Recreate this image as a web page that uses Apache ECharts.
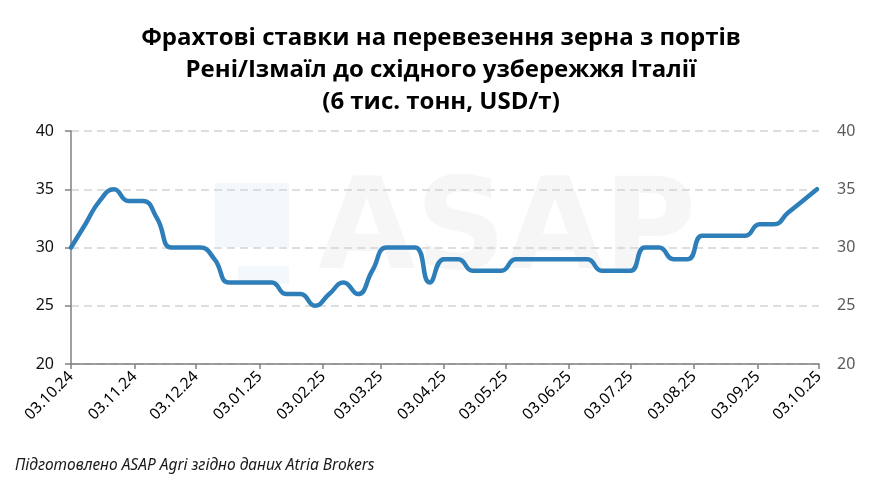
<!DOCTYPE html>
<html>
<head>
<meta charset="utf-8">
<script src="https://cdn.jsdelivr.net/npm/echarts@6/dist/echarts.min.js"></script>
<style>html,body{margin:0;padding:0;background:#fff;}#chart{width:882px;height:488px;}</style>
</head>
<body>
<div id="chart"></div>
<script>
// ---- data ----
const titleText = 'Фрахтові ставки на перевезення зерна з портів\nРені/Ізмаїл до східного узбережжя Італії\n(6 тис. тонн, USD/т)';
const sourceText = 'Підготовлено ASAP Agri згідно даних Atria Brokers';
const axisStart = [2024, 9, 3];   // 03.10.24
const axisEnd = [2025, 9, 3];     // 03.10.25
const tickDay = '03';             // ticks/labels on the 3rd of each month
const weekStep = 7;               // weekly observations
const rates = [30, 32, 34, 35, 34, 34, 32.5, 30, 30, 30, 29, 27, 27, 27, 27, 26, 26, 25, 26, 27,
               26, 28, 30, 30, 30, 27, 29, 29, 28, 28, 28, 29, 29, 29, 29, 29, 29, 28, 28, 28,
               30, 30, 29, 29, 31, 31, 31, 31, 32, 32, 33, 34, 35];
const yMin = 20, yMax = 40, yStep = 5;

// ---- build categories (every day on the axis) ----
function fmt(d) {
  const dd = String(d.getUTCDate()).padStart(2, '0');
  const mm = String(d.getUTCMonth() + 1).padStart(2, '0');
  const yy = String(d.getUTCFullYear()).slice(2);
  return dd + '.' + mm + '.' + yy;
}
const days = [];
const t0 = Date.UTC(axisStart[0], axisStart[1], axisStart[2]);
const t1 = Date.UTC(axisEnd[0], axisEnd[1], axisEnd[2]);
for (let t = t0; t <= t1; t += 86400000) days.push(fmt(new Date(t)));
const seriesData = rates.map((v, k) => [days[Math.min(k * weekStep, days.length - 1)], v]);

const isTick = (idx, val) => val.slice(0, 2) === tickDay;

const chart = echarts.init(document.getElementById('chart'), null, {renderer: 'canvas'});
chart.setOption({
  animation: false,
  backgroundColor: '#ffffff',
  title: {
    text: titleText,
    left: 'center',
    top: 22,
    padding: 0,
    textStyle: {fontFamily: 'Open Sans', fontWeight: 'bold', fontSize: 24, lineHeight: 32, color: '#000000'}
  },
  grid: {left: 71, right: 63, top: 131, bottom: 124, containLabel: false},
  graphic: [
    {type: 'rect', z: -10, shape: {x: 215, y: 183, width: 74, height: 64}, style: {fill: '#f3f8fc'}},
    {type: 'rect', z: -10, shape: {x: 238, y: 266, width: 51, height: 18}, style: {fill: '#f3f8fc'}},
    {type: 'text', z: -10, left: 318, top: 172, style: {text: 'ASAP', fontFamily: 'DejaVu Sans', fontWeight: 'bold', fontSize: 126, fill: '#f6f6f6'}},
    {type: 'text', left: 15, top: 458, style: {text: sourceText, fontFamily: 'Noto Sans', fontStyle: 'italic', fontSize: 15.5, fill: '#1a1a1a'}}
  ],
  xAxis: {
    type: 'category',
    data: days,
    boundaryGap: false,
    axisLine: {lineStyle: {color: '#808080', width: 1.5}},
    axisTick: {interval: isTick, length: 5, lineStyle: {color: '#808080', width: 1.5}},
    axisLabel: {interval: isTick, rotate: 45, margin: 10, fontFamily: 'Noto Sans', fontSize: 15.5, color: '#000000'},
    splitLine: {show: false}
  },
  yAxis: [
    {
      type: 'value', min: yMin, max: yMax, interval: yStep, position: 'left',
      axisLine: {show: true, lineStyle: {color: '#808080', width: 1.5}},
      axisTick: {show: true, length: 6, lineStyle: {color: '#808080', width: 1.5}},
      axisLabel: {margin: 17, fontFamily: 'Noto Sans', fontSize: 16, color: '#111111'},
      splitLine: {show: true, lineStyle: {color: '#d4d4d4', width: 1.6, type: [8, 5]}}
    },
    {
      type: 'value', min: yMin, max: yMax, interval: yStep, position: 'right',
      axisLine: {show: false}, axisTick: {show: false},
      axisLabel: {margin: 18, fontFamily: 'Noto Sans', fontSize: 16, color: '#595959'},
      splitLine: {show: false}
    }
  ],
  series: [{
    type: 'line',
    data: seriesData,
    yAxisIndex: 0,
    smooth: 0.5,
    symbol: 'none',
    lineStyle: {color: '#2e7fb9', width: 4.5, cap: 'round', join: 'round'},
    z: 5
  }]
});
</script>
</body>
</html>
